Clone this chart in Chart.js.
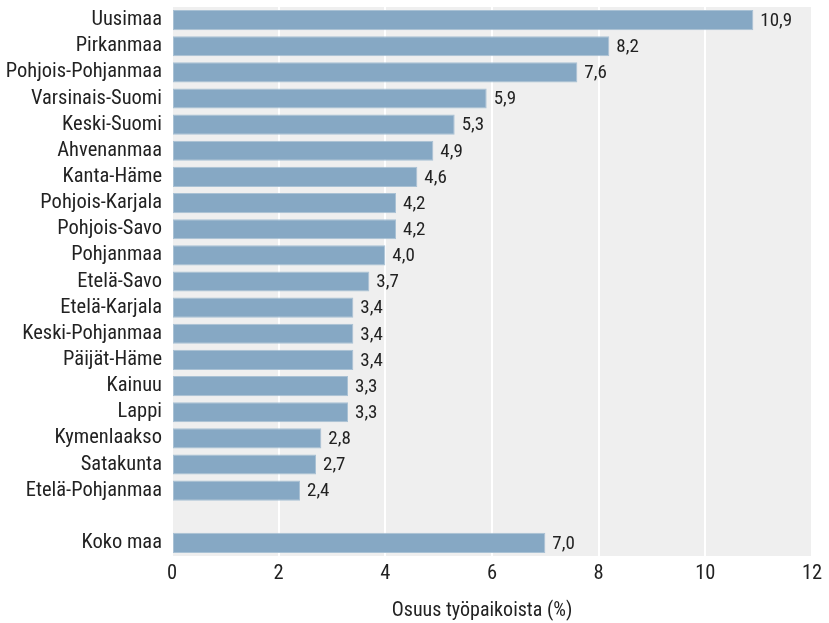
<!DOCTYPE html>
<html><head><meta charset="utf-8">
<script src="https://cdn.jsdelivr.net/npm/chart.js@4/dist/chart.umd.min.js"></script>
<style>html,body{margin:0;padding:0;background:#fff}#w{width:829px;height:623px}</style>
</head><body><div id="w"><canvas id="c"></canvas></div>
<script>
const regions = ["Uusimaa","Pirkanmaa","Pohjois-Pohjanmaa","Varsinais-Suomi","Keski-Suomi","Ahvenanmaa","Kanta-Häme","Pohjois-Karjala","Pohjois-Savo","Pohjanmaa","Etelä-Savo","Etelä-Karjala","Keski-Pohjanmaa","Päijät-Häme","Kainuu","Lappi","Kymenlaakso","Satakunta","Etelä-Pohjanmaa","","Koko maa"];
const shares = [10.9,8.2,7.6,5.9,5.3,4.9,4.6,4.2,4.2,4.0,3.7,3.4,3.4,3.4,3.3,3.3,2.8,2.7,2.4,null,7.0];
const xTicks = [0,2,4,6,8,10,12];
const xTitle = "Osuus työpaikoista (%)";
const FONT = "'Liberation Sans Narrow','Roboto Condensed','Roboto',sans-serif";

const bgPlugin = {
  id:'bg',
  beforeDraw(chart){
    const {ctx, chartArea:a} = chart;
    ctx.save(); ctx.fillStyle='#efefef'; ctx.fillRect(a.left,a.top,a.right-a.left,a.bottom-a.top); ctx.restore();
  }
};
const labelPlugin = {
  id:'vals',
  afterDatasetsDraw(chart){
    const ctx = chart.ctx; const meta = chart.getDatasetMeta(0);
    ctx.save(); ctx.font = "19px "+FONT; ctx.fillStyle='#222'; ctx.textBaseline='middle'; ctx.textAlign='left';
    meta.data.forEach((el,i)=>{
      const v = shares[i]; if(v==null) return;
      ctx.fillText(v.toFixed(1).replace('.',','), el.x+7, el.y+1);
    });
    ctx.restore();
  },
  afterDraw(chart){
    const ctx = chart.ctx;
    ctx.save(); ctx.font = "20px "+FONT; ctx.fillStyle='#222'; ctx.textAlign='center'; ctx.textBaseline='alphabetic';
    ctx.fillText(xTitle, 482, 616);
    ctx.restore();
  }
};
new Chart(document.getElementById('c'),{
  type:'bar',
  data:{labels:regions,datasets:[{data:shares,backgroundColor:'#86a8c4',borderColor:'#a9c1d4',borderWidth:1,borderSkipped:false,barPercentage:0.77,categoryPercentage:1}]},
  options:{
    indexAxis:'y',responsive:true,maintainAspectRatio:false,animation:false,
    layout:{padding:{top:7,right:17,left:0,bottom:0}},
    plugins:{legend:{display:false},tooltip:{enabled:false}},
    scales:{
      x:{min:0,max:12,afterBuildTicks(s){s.ticks=xTicks.map(v=>({value:v}));},
        grid:{color:'#ffffff',lineWidth:2,drawTicks:false},border:{display:false},
        ticks:{color:'#222',font:{family:FONT,size:20.5},padding:6},
        title:{display:false},
        afterFit(s){s.height=67;}
      },
      y:{grid:{display:false,drawTicks:false},border:{display:false},
        ticks:{color:'#222',font:{family:FONT,size:20.5},padding:10,autoSkip:false},
        afterFit(s){s.width=172; s.paddingTop=0; s.paddingBottom=0;}
      }
    }
  },
  plugins:[bgPlugin,labelPlugin]
});
</script></body></html>
